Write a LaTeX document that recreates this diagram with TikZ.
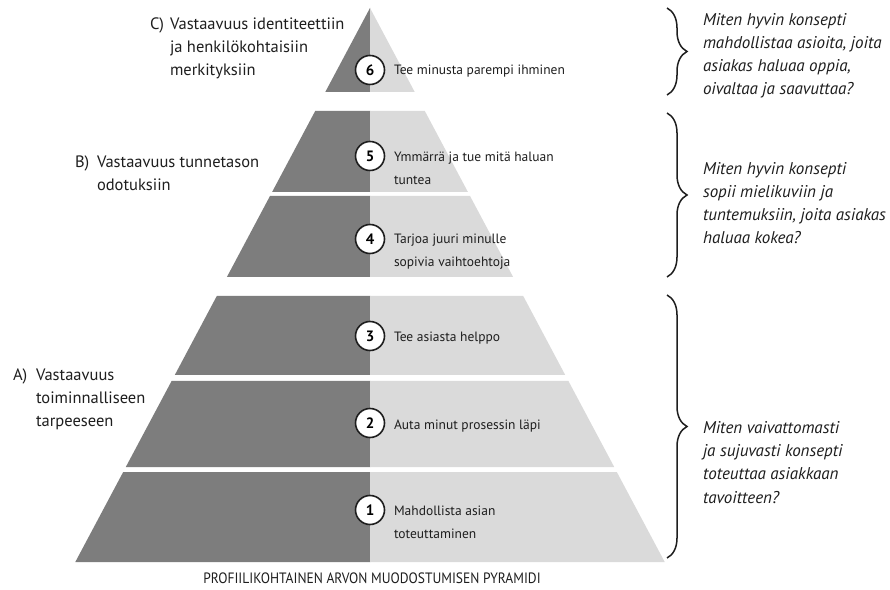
\documentclass[tikz,border=0pt]{standalone}
\usepackage{fontspec}
\setmainfont{PT Sans}
\usetikzlibrary{decorations.pathreplacing}

\begin{document}
\begin{tikzpicture}[x=1pt,y=1pt,
  numball/.style={circle,draw=textColor,fill=white,line width=1.6pt,minimum size=29pt,inner sep=0pt,font=\fontsize{15}{15}\selectfont\bfseries},
  steptext/.style={anchor=base west,align=left,inner sep=0pt,outer sep=0pt,text=textColor,font=\fontsize{13.5}{23}\selectfont},
  sidetext/.style={anchor=base west,align=left,inner sep=0pt,outer sep=0pt,text=textColor,font=\fontsize{16.5}{23}\selectfont},
  asktext/.style={anchor=base west,align=left,inner sep=0pt,outer sep=0pt,text=textColor,font=\fontsize{17}{23.2}\selectfont\itshape},
  curly/.style={draw=textColor,line width=1.5pt,decorate,decoration={brace,amplitude=20pt}}]
\definecolor{fillColor}{RGB}{255,255,255}
\definecolor{darkColor}{RGB}{125,125,125}
\definecolor{lightColor}{RGB}{218,218,218}
\definecolor{textColor}{RGB}{30,30,30}
\path[use as bounding box,fill=fillColor] (0,0) rectangle (890,589);

% pyramid, dark left half and light right half
\begin{scope}
\path[fill=darkColor] (370.0,581) -- (325.3,497) -- (370.0,497) -- cycle;
\path[fill=lightColor] (370.0,581) -- (414.7,497) -- (370.0,497) -- cycle;

\path[fill=darkColor] (315.2,478) -- (272.1,397) -- (370.0,397) -- (370.0,478) -- cycle;
\path[fill=lightColor] (370.0,478) -- (370.0,397) -- (467.9,397) -- (424.8,478) -- cycle;

\path[fill=darkColor] (270.0,393) -- (226.9,312) -- (370.0,312) -- (370.0,393) -- cycle;
\path[fill=lightColor] (370.0,393) -- (370.0,312) -- (513.1,312) -- (470.0,393) -- cycle;

\path[fill=darkColor] (216.8,293) -- (174.8,214) -- (370.0,214) -- (370.0,293) -- cycle;
\path[fill=lightColor] (370.0,293) -- (370.0,214) -- (565.2,214) -- (523.2,293) -- cycle;

\path[fill=darkColor] (171.6,208) -- (125.8,122) -- (370.0,122) -- (370.0,208) -- cycle;
\path[fill=lightColor] (370.0,208) -- (370.0,122) -- (614.2,122) -- (568.4,208) -- cycle;

\path[fill=darkColor] (123.2,117) -- ( 75.3, 27) -- (370.0, 27) -- (370.0,117) -- cycle;
\path[fill=lightColor] (370.0,117) -- (370.0, 27) -- (664.7, 27) -- (616.8,117) -- cycle;
\end{scope}

% numbered levels (text nodes sit on the baseline of their last line)
\begin{scope}
\node[numball] (n6) at (370,519) {6};
\node[numball] (n5) at (370,433) {5};
\node[numball] (n4) at (370,350) {4};
\node[numball] (n3) at (370,253) {3};
\node[numball] (n2) at (370,166) {2};
\node[numball] (n1) at (370, 79) {1};

\node[steptext] (t6) at (394,514) {Tee minusta parempi ihminen};
\node[steptext] (t5) at (394,404) {Ymmärrä ja tue mitä haluan\\tuntea};
\node[steptext] (t4) at (394,322) {Tarjoa juuri minulle\\sopivia vaihtoehtoja};
\node[steptext] (t3) at (394,247) {Tee asiasta helppo};
\node[steptext] (t2) at (394,160) {Auta minut prosessin läpi};
\node[steptext] (t1) at (394, 51) {Mahdollista asian\\toteuttaminen};
\end{scope}

% left hand labels
\begin{scope}
\node[sidetext] (lC) at (150,559) {C)};
\node[sidetext] (sC) at (170,513) {Vastaavuus identiteettiin\\ja henkilökohtaisiin\\merkityksiin};
\node[sidetext] (lB) at ( 75,421) {B)};
\node[sidetext] (sB) at ( 97,398) {Vastaavuus tunnetason\\odotuksiin};
\node[sidetext] (lA) at ( 13,208) {A)};
\node[sidetext] (sA) at ( 36,162) {Vastaavuus\\toiminnalliseen\\tarpeeseen};
\end{scope}

% braces and questions on the right
\begin{scope}
\coordinate (bC1) at (667,581);
\coordinate (bC2) at (667,494);
\coordinate (bB1) at (667,476);
\coordinate (bB2) at (667,312);
\coordinate (bA1) at (667,294);
\coordinate (bA2) at (667, 31);
\draw[curly] (bC1) -- (bC2);
\draw[curly] (bB1) -- (bB2);
\draw[curly] (bA1) -- (bA2);

\node[asktext] (qC) at (703,494) {Miten hyvin konsepti\\mahdollistaa asioita, joita\\asiakas haluaa oppia,\\oivaltaa ja saavuttaa?};
\node[asktext] (qB) at (703,345) {Miten hyvin konsepti\\sopii mielikuviin ja\\tuntemuksiin, joita asiakas\\haluaa kokea?};
\node[asktext] (qA) at (703, 86) {Miten vaivattomasti\\ja sujuvasti konsepti\\toteuttaa asiakkaan\\tavoitteen?};
\end{scope}

\node[anchor=base,inner sep=0pt,outer sep=0pt,text=textColor,font=\fontsize{15}{15}\selectfont,xscale=0.9] (cap) at (372,6) {PROFIILIKOHTAINEN ARVON MUODOSTUMISEN PYRAMIDI};
\end{tikzpicture}
\end{document}
